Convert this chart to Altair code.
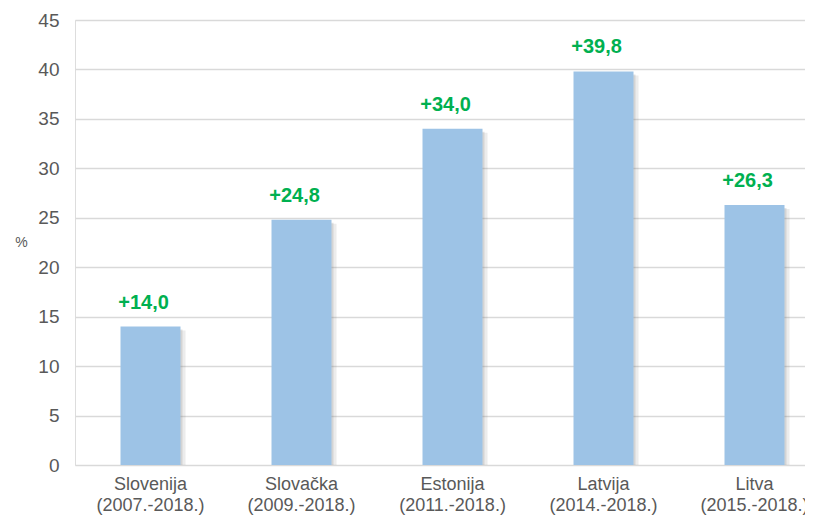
import altair as alt
import pandas as pd

categories = ["Slovenija|(2007.-2018.)", "Slovačka|(2009.-2018.)", "Estonija|(2011.-2018.)",
              "Latvija|(2014.-2018.)", "Litva|(2015.-2018.)"]
values = [14.0, 24.8, 34.0, 39.8, 26.3]
labels = ["+14,0", "+24,8", "+34,0", "+39,8", "+26,3"]
y_ticks = [0, 5, 10, 15, 20, 25, 30, 35, 40, 45]

df = pd.DataFrame({"cat": categories, "v": values, "lab": labels})

FONT = "Liberation Sans"

x = alt.X("cat:N", sort=categories,
          scale=alt.Scale(range=[0, 755], paddingInner=0, paddingOuter=0),
          axis=alt.Axis(title=None, labelAngle=0, labelExpr="split(datum.label, '|')",
                        labelFontSize=18, labelColor="#595959", labelLineHeight=21,
                        labelPadding=10, ticks=False, domain=False, grid=False,
                        labelOverlap=False, labelBound=False, labelFlush=False, labelFont=FONT))
y_axis = alt.Axis(title="%", titleAngle=0, titleX=-54, titleY=222, titleFontSize=14,
                  titleFontWeight="normal", titleColor="#595959", titleFont=FONT,
                  titleAlign="center", titleBaseline="middle",
                  values=y_ticks, labelFontSize=19, labelColor="#595959", labelFont=FONT,
                  labelPadding=16, ticks=False, domain=False,
                  gridColor="#d9d9d9", gridWidth=1.3)
y_scale = alt.Scale(domain=[0, 45], nice=False)

base = alt.Chart(df)

shadow1 = base.transform_calculate(sv="datum.v - 0.3").mark_bar(
    size=60, color="#808080", opacity=0.22, xOffset=2).encode(
    x=x, y=alt.Y("sv:Q", scale=y_scale, axis=y_axis))
shadow2 = base.transform_calculate(sv="datum.v - 0.4").mark_bar(
    size=60, color="#808080", opacity=0.15, xOffset=5).encode(
    x=x, y=alt.Y("sv:Q", scale=y_scale, axis=y_axis))
bars = base.mark_bar(size=60, color="#9DC3E6").encode(
    x=x, y=alt.Y("v:Q", scale=y_scale, axis=y_axis))
text = base.mark_text(fontSize=20, fontWeight="bold", color="#00B050", font=FONT,
                      dx=-7, dy=-18, baseline="alphabetic").encode(
    x=x, y=alt.Y("v:Q", scale=y_scale, axis=y_axis), text="lab:N")

chart = alt.layer(shadow2, shadow1, bars, text).properties(
    width=730, height=445,
    autosize=alt.AutoSizeParams(type="none"),
    padding={"left": 67, "top": 12, "right": 0, "bottom": 51},
).configure_view(stroke=None).configure(background="white")

chart.save("out.html", embed_options={"renderer": "svg", "actions": False})
